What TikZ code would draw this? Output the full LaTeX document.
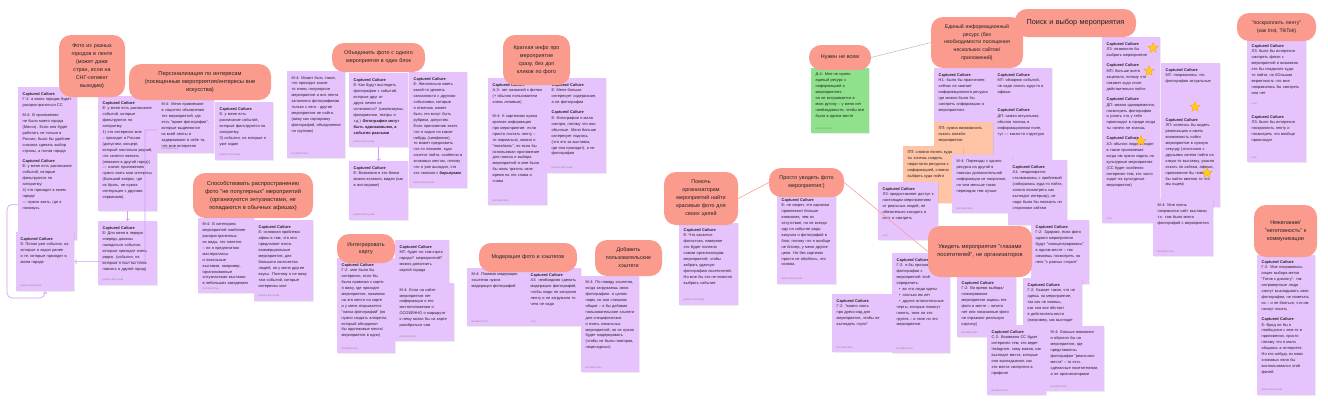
\documentclass[tikz,border=0pt]{standalone}
\usepackage{fontspec}
\setmainfont{Liberation Sans}
\usetikzlibrary{shapes.geometric,arrows.meta,shadows,calc}
\definecolor{notec}{HTML}{E6C3FC}
\definecolor{bubc}{HTML}{FA9B8E}
\definecolor{greenc}{HTML}{8FE18C}
\definecolor{peachc}{HTML}{FFC3A6}
\definecolor{connc}{HTML}{CF9EF7}
\definecolor{linec}{HTML}{F5A394}
\definecolor{grayl}{HTML}{BBBBBB}
\definecolor{txt}{HTML}{222222}
\definecolor{footc}{HTML}{8A8A8A}
\definecolor{starc}{HTML}{FFCC1A}
\newcommand\capc{\textbf{Captured Culture}\par}
\newcommand\gp{\par\vspace{4pt}}
\newcommand\bul[1]{\par\hangindent=6pt\hangafter=1\noindent\makebox[6pt][c]{\textbullet}#1}
\tikzset{
  sticky/.style={fill=notec,draw=none,inner sep=0pt,drop shadow={shadow xshift=0.5pt,shadow yshift=-0.7pt,opacity=0.15}},
  greenst/.style={fill=greenc},
  peachst/.style={fill=peachc},
  stext/.style={inner sep=0pt,align=left,text=txt,font=\fontsize{3.9}{5.9}\selectfont},
  foot/.style={inner sep=0pt,text=footc,font=\fontsize{2.6}{3}\selectfont},
  bubble/.style={fill=bubc,draw=none,rounded corners=12pt,align=center,inner sep=0pt,text=txt},
  conn/.style={draw=connc,line width=0.6pt},
  tip/.style={-{Straight Barb[length=1.8pt,width=3.8pt]}},
  sline/.style={draw=linec,line width=0.6pt},
  gline/.style={draw=grayl,line width=0.5pt},
  starst/.style={star,star points=5,star point ratio=2.3,fill=starc,draw=orange!70!starc,line width=0.2pt,minimum size=11pt,inner sep=0pt}
}
\newcommand\stick[8]{%
  \pgfmathsetmacro\tw{#4-9}%
  \node[sticky,#6,minimum width=#4pt,minimum height=#5pt,anchor=north west] (#1) at (#2pt,-#3pt) {};
  \node[stext,text width=\tw pt,anchor=north west] (#1-t) at ([shift={(4.5pt,-5pt)}]#1.north west) {#7};
  \node[foot,anchor=south west] (#1-f) at ([shift={(4.5pt,4pt)}]#1.south west) {#8};
}
\newcommand\bub[7]{%
  \pgfmathsetmacro\bw{#4-#2}\pgfmathsetmacro\bh{#5-#3}%
  \pgfmathsetmacro\bx{(#2+#4)/2}\pgfmathsetmacro\by{-(#3+#5)/2}%
  \pgfmathsetmacro\btw{#4-#2-10}%
  \node[bubble,minimum width=\bw pt,minimum height=\bh pt,text width=\btw pt,font=#6] (#1) at (\bx pt,\by pt) {#7};
}
\begin{document}
\begin{tikzpicture}
\fill[white] (0,0) rectangle (1328pt,-418pt);
\useasboundingbox (0,0) rectangle (1328pt,-418pt);

% ---- left cluster
\stick{n1}{18}{87}{59}{153}{}{\capc Г-1: в каких городах будет распространяться СС\gp М-4: В приложении не было моего города (Минск). Если оно будет работать не только в России, было бы удобнее сначала сделать выбор страны, а потом города\gp\capc Е: у меня есть расписание событий, которые фильтруются по алгоритму:\\ 4) что проходит в моем городе\\ — нужно знать, где я нахожусь}{}
\stick{n2}{16}{232}{58}{59}{}{\capc Е: Потом уже события, на которые я ходил ранее и те, которые проходят в моем городе}{работа болтушки}
\stick{n3}{98}{96}{59}{115}{}{\capc Е: у меня есть расписание событий, которые фильтруются по алгоритму:\\ 1) что интересно мне – проходит в России (допустим, концерт, который настолько редкий, что хочется поехать (неважно в другой город))\\ — значит приложению нужно знать мои интересы (Большой вопрос, где их брать, не нужна интеграция с другими сервисами).}{}
\stick{n4}{98}{221}{59}{64}{}{\capc Е: Для меня в первую очередь должны находиться события, которые проходят очень редко. (события, на которые я был бы готов поехать в другой город)}{работа болтушки}
\stick{m4}{157}{98}{57}{55}{}{М-4: Меня привлекают в соцсетях объявления тех мероприятий, где есть "яркие фотографии", которые выделяются из всей ленты и задерживают в себе то, что мне интересно}{Excellent Duo}
\stick{n5}{215}{102}{58}{58}{}{\capc Е: у меня есть расписание событий, которые фильтруются по алгоритму:\\ 3) события, на которые я уже ходил}{работа болтушки}
\stick{n6}{287}{71}{58}{87}{}{М-4: Может быть такое, что проходит какое-то очень популярное мероприятие и вся лента заполнена фотографиями только с него - другие мероприятия не найти. (вижу как сортировку фотографий, объединение по группам)}{Excellent Duo}
\stick{n7}{349}{73}{59}{74}{}{\capc Е: Как будут выглядеть фотографии с событий, которые друг от друга ничем не отличаются? (симпозиумы, филармонии, театры и т.д.) \textbf{Фотографии могут быть одинаковыми, а события разными}}{работа болтушки}
\stick{n8}{349}{161}{59}{59}{}{\capc Е: Возможно в эти блоки можно вставить видео (как в инстаграме)}{работа болтушки}
\stick{n9}{409}{72}{58}{116}{}{\capc Е: Желательно иметь какой-то уровень связанности с другими событиями, которые я отмечаю, может быть это могут быть рубрики, допустим. Если приложение знает, что я ходил на какое-нибудь (симфонию), то может предложить что-то похожее, куда хочется пойти, особенно в знакомых местах, потому что я уже выходил, что это связано с \textbf{барьерами}}{работа болтушки}
\stick{n10}{488}{78}{59}{127}{}{\capc А-3: нет названий к фотом (+ обычно пользователи очень ленивые)\gp\gp М-4: К картинкам нужна краткая информация про мероприятие: если просто листать ленту – то нормально, можно и "полайкать", но если бы использовал приложение для поиска и выбора мероприятий и мне было бы жаль тратить свое время на это снова и снова}{Excellent Duo}
\stick{n11}{547}{78}{59}{95}{}{\capc Е: Меня больше интересует содержание, а не фотографии\gp\capc Е: Фотографии я мало смотрю, потому что они обычные. Меня больше интересует подпись (что это за выставка, где она проходит), а не фотографии}{работа болтушки}
\stick{n12}{198}{218}{56}{75}{}{М-4: В категориях мероприятий наиболее распространенных их виды, это понятно – но я предпочитаю мастерклассы и локальные выставки, например, организованные энтузиастами выставки в небольших заведениях}{Excellent Duo}
\stick{n13}{254}{220}{59}{81}{}{\capc Е: основная проблема афиш в том, что они предлагают очень коммерциальные мероприятия, для большого количества людей, но у меня другие вкусы. Поэтому я не вижу там событий, которые интересны мне}{работа болтушки}
\stick{n14}{337}{258}{58}{95}{}{\capc Г-2: мне было бы интересно, если бы была привязка к карте: я вижу, где проходят мероприятия, нажимаю на это место на карте и у меня открывается "папка фотографий" (но нужно создать алгоритм, который объединял бы одинаковые места/ мероприятия в одно)}{Excellent Duo}
\stick{n15}{395}{240}{54}{48}{}{\capc МТ: будет ли там карта города? мероприятий? можно дополнить картой города}{}
\stick{n16}{395}{283}{59}{58}{}{М-4: Если на сайте мероприятия нет информации о его местоположении и ОСОБЕННО о маршруте к нему могли бы на карте разобраться сам}{Excellent Duo}
\stick{n17}{467}{268}{59}{58}{}{М-4: Помимо модерации хэштегов нужна модерация фотографий}{Excellent Duo}
\stick{n18}{526}{268}{55}{58}{}{\capc А3: необходимо сделать модерацию фотографий, чтобы люди не засоряли ленту и не загружали то чего не надо}{Lisa}
\stick{n19}{581}{276}{58}{96}{}{М-4: По поводу хэштегов, когда загружаешь свою фотографию: в целом норм, но они слишком общие – я бы добавил пользовательские хэштеги для специфических и очень локальных мероприятий, но их нужно будет модерировать (чтобы не было повторов, нецензурных)}{Excellent Duo}

% ---- middle
\stick{g1}{811}{68}{58}{65}{greenst}{Д-4: Мне не нужен единый ресурс с информацией о мероприятиях.\\ он не встраивается в мою рутину – у меня нет необходимости, чтобы все было в одном месте}{Excellent Duo}
\stick{n20}{679}{223}{59}{82}{}{\capc Е: Что касается фотостока, наверное это будет полезно самим организаторам мероприятий, чтобы забрать удачную фотографию посетителей. Но мне бы это не помогло выбрать событие}{работа болтушки}
\stick{n21}{777}{193}{59}{91}{}{\capc Е: не секрет, что картинки привлекают больше внимания, чем их отсутствие, но не всегда иду на событие ради визуала и фотографий в блог, потому что я вообще не блогер, у меня другие цели. Но без картинок просто не обойтись, это основа.}{работа болтушки}
\stick{n22}{832}{294}{60}{58}{}{\capc Г-2: "важно знать про дресс-код для мероприятия, чтобы не выглядеть глупо"}{Excellent Duo}

% ---- right cluster
\stick{n23}{934}{68}{59}{54}{}{\capc Н1: было бы практичнее, сейчас не хватает информационного ресурса где можно было бы смотреть информацию о мероприятиях}{}
\stick{n24}{993}{68}{59}{92}{}{\capc МТ: обзорник событий, не надо лазить куда-то в афиши\gp\gp\gp\capc ДП: самая актуальная, обычно тонешь в информационном поле, тут — какая-то структура}{}
\stick{p1}{934}{122}{59}{33}{peachst}{ПП: нужна возможность искать онлайн-мероприятия}{}
\stick{p2}{903}{146}{60}{57}{peachst}{ПП: сложно понять куда ты хочешь сходить, недостаток ресурсов с информацией, сложно выбрать куда пойти}{}
\stick{n25}{952}{155}{60}{58}{}{М-4: Переходы с одного ресурса на другой в поисках дополнительной информации не напрягают, но чем меньше таких переходов тем лучше}{Excellent Duo}
\stick{n26}{1008}{160}{59}{65}{}{\capc А1: неоднократно сталкивалась с проблемой (собиралась куда-то пойти, хотела посмотреть как выглядит интерьер), не надо было бы полазить по сторонним сайтам}{}
\stick{n27}{878}{182}{60}{58}{}{\capc ЛЗ: предоставляет доступ к настоящим мероприятиям от реальных людей, не обязательно заходить в инст и смотреть}{Liza}
\stick{n28}{892}{253}{58}{100}{}{\capc Г-2: я бы просматривал фотографии с мероприятий чтоб определить:\bul{во что люди одеты}\bul{сколько им лет}\bul{другие отличительные черты, которые помогут понять, твоя ли это группа – и твое ли это мероприятие}}{Excellent Duo}
\stick{n29}{1031}{220}{58}{64}{}{\capc Г-2: Здорово, если фото одного мероприятия будут "сконцентрированы" в одном месте – так сможешь посмотреть на него "с разных сторон"}{}
\stick{n30}{1023}{278}{59}{50}{}{\capc Г-2: Бывает такое, что не идешь на мероприятие, так как не знаешь, как там все обстоит в действительности (например, как выглядит}{}
\stick{n31}{957}{276}{59}{61}{}{\capc Г-2: Во время выбора/ планирования мероприятия ищешь его фото в месте – ничего нет или показанные фото не отражают реальную картину)}{Excellent Duo}
\stick{n32}{987}{325}{59}{70}{}{\capc С-2: Возможно СС будет интересен тем, кто ведет Instagram: кому важно, как выглядят места, которые они выкладывают, как эти места смотрятся в профиле}{Excellent Duo}
\stick{n33}{1046}{326}{58}{65}{}{М-4: Больше внимания я обратил бы на мероприятия, где представлены фотографии "реального места" – то есть сделанные посетителями, а не организаторами}{Excellent Duo}

% ---- search column
\stick{n34}{1102}{37}{58}{186}{}{\capc ЛЗ: позволило бы выбрать мероприятие\gp\capc МП: больше всего зацепила, потому что покажет куда стоит действительно пойти\gp\capc ДП: можно одновременно, посмотреть фотографии и узнать что у тебя происходит в городе когда ты ничего не знаешь\gp\capc АЗ: обычно люди заходят в такие приложения когда им нужно ходить на культурные мероприятия (СС будет особенно интересен тем, кто часто ходит на культурные мероприятия)}{Lisa}
\stick{n35}{1161}{63}{59}{50}{}{\capc МТ: понравилось что фотографии актуальные}{}
\stick{n36}{1161}{113}{59}{94}{}{\capc ЛП: хотелось бы видеть реализацию и иметь возможность найти мероприятие в нужную секунду (спонтанно с друзьями хотели пойти на какую-то выставку, ужасно искать по сайтам, афиши, приложение бы помогло бы найти именно то что мы ищем)}{}
\stick{n37}{1153}{199}{60}{57}{}{М-4: Мне очень понравился сайт выставки, т.к. там было много фотографий с мероприятия}{Excellent Duo}
\stick{n38}{1247}{39}{59}{123}{}{\capc ЛЗ: было бы интересно смотреть фотки с мероприятий и возможно это бы сподвигло куда-то пойти, но бОльшая вероятность что мне понравилось бы смотреть или нет\gp{\color{footc}\fontsize{2.6}{3}\selectfont Lisa}\gp\gp\capc ЛЗ: было бы интересно поскроллить ленту и посмотреть что вообще происходит}{Lisa}
\stick{n39}{1257}{255}{58}{140}{}{\capc Г-2: Мне понравилась опция выбора метки "Готов к диалогу": так интровертные люди смогут выкладывать свои фотографии, не помечать их – и не бояться, что им начнут писать\gp\capc Е: Вряд ли бы я пообщался с кем-то в приложении, просто потому что я мало общаюсь в интернете. Но кто-нибудь из моих знакомых явно бы воспользовался этой фичей}{работа болтушки}

% ---- connectors (purple)
\coordinate (lp1) at (7pt,-298pt);
\coordinate (lp2) at (45pt,-298pt);
\draw[conn,tip,rounded corners=5pt] ([yshift=36pt]n1.south west) -| (lp1) -- (lp2) -- (n2.south);
\coordinate (bd) at (145pt,-261.5pt);
\draw[conn,tip] ([yshift=-32pt]m4.north west) -| (bd) -- (n2.east);
\draw[conn,tip] (n3.south) -- (n4.north);
\draw[conn,tip] (n7.south) -- (n8.north);

% ---- bubbles
\bub{b1}{59}{35}{125}{97}{\fontsize{5.4}{8}\selectfont}{Фото из разных\\ городов в ленте\\ (может даже\\ стран, если на\\ СНГ-сегмент\\ выходим)}
\bub{b2}{129}{64}{271}{100}{\fontsize{5.7}{8}\selectfont}{Персонализация по интересам\\ (посещенные мероприятия/интересы вне\\ искусства)}
\bub{b3}{193}{173}{313}{218}{\fontsize{5.7}{8}\selectfont}{Способствовать распространению\\ фото "не популярных" мероприятий\\ (организуются энтузиастами, не\\ попадаются в обычных афишах)}
\bub{b4}{332}{43}{425}{72}{\fontsize{5.4}{8}\selectfont}{Объединить фото с одного\\ мероприятия в один блок}
\bub{b5}{503}{35}{570}{85}{\fontsize{5.4}{8}\selectfont}{Краткая инфо про\\ мероприятие\\ сразу, без доп\\ кликов по фото}
\bub{b6}{337}{234}{395}{263}{\fontsize{5.4}{7.5}\selectfont}{Интегрировать\\ карту}
\bub{b7}{479}{243}{577}{272}{\fontsize{5.4}{8}\selectfont}{Модерация фото и хэштегов}
\bub{b8}{595}{240}{662}{276}{\fontsize{5.4}{8}\selectfont}{Добавить\\ пользовательские\\ хэштеги}
\bub{b9}{809}{45}{871}{70}{\fontsize{5.4}{8}\selectfont}{Нужен не всем}
\bub{b10}{664}{172}{738}{225}{\fontsize{5.4}{8}\selectfont}{Помочь\\ организаторам\\ мероприятий найти\\ красивые фото для\\ своих целей}
\bub{b11}{769}{168}{844}{197}{\fontsize{5.4}{8}\selectfont}{Просто увидеть фото\\ мероприятия:)}
\bub{b12}{931}{17}{1023}{68}{\fontsize{5.2}{7.6}\selectfont}{Единый информационный\\ ресурс (без\\ необходимости посещения\\ нескольких сайтов/\\ приложений)}
\bub{b13}{1015}{9}{1136}{37}{\fontsize{7.3}{9}\selectfont}{Поиск и выбор мероприятия}
\bub{b14}{928}{226}{1032}{277}{\fontsize{5.7}{8}\selectfont}{Увидеть мероприятия "глазами\\ посетителей", не организаторов}
\bub{b15}{1237}{13}{1316}{41}{\fontsize{5.2}{7.5}\selectfont}{"поскроллить ленту"\\ (как Inst, TikTok)}
\bub{b16}{1254}{205}{1317}{257}{\fontsize{5.5}{8}\selectfont}{Нежелание/\\ "неготовность" к\\ коммуникации}

% ---- plain lines between bubbles
\draw[gline] (b9.east) -- (b12.west);
\draw[sline] (b11.west) -- (b10.east);
\draw[sline] (b11.east) -- (b14.west);

% ---- stars
\node[starst] (s1) at (1153pt,-48pt) {};
\node[starst] (s2) at (1149pt,-71pt) {};
\node[starst] (s3) at (1195pt,-107pt) {};
\node[starst] (s4) at (1141pt,-141pt) {};
\node[starst] (s5) at (1207pt,-173pt) {};
\end{tikzpicture}
\end{document}
